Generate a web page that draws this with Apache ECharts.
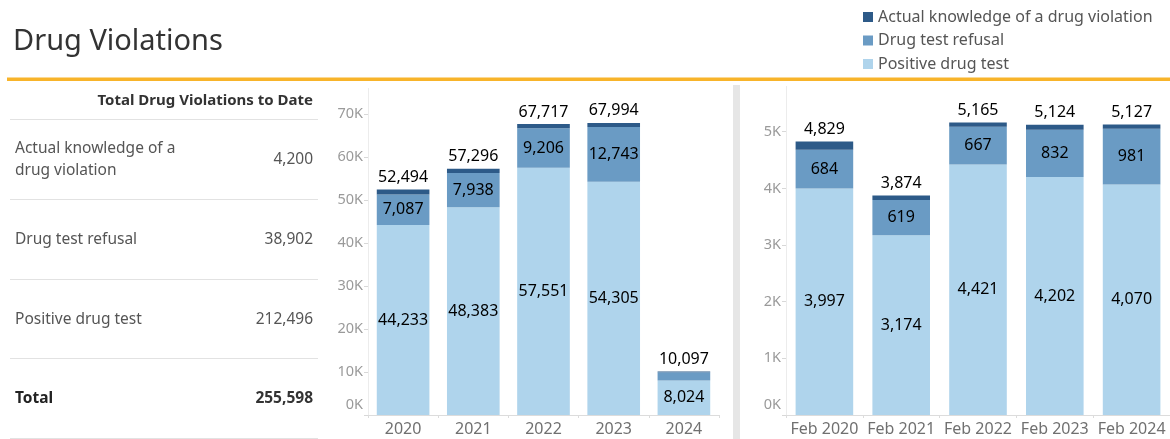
<!DOCTYPE html>
<html>
<head>
<meta charset="utf-8">
<title>Drug Violations</title>
<script src="https://cdn.jsdelivr.net/npm/echarts@6/dist/echarts.min.js"></script>
<style>
  html, body { margin: 0; padding: 0; background: #fff; }
  #chart { width: 1170px; height: 439px; }
</style>
</head>
<body>
<div id="chart"></div>
<script>
// data
var seriesNames = ['Positive drug test', 'Drug test refusal', 'Actual knowledge of a drug violation'];
var years = ['2020', '2021', '2022', '2023', '2024'];
var yearPositive = [44233, 48383, 57551, 54305, 8024];
var yearRefusal = [7087, 7938, 9206, 12743, 1928];
var yearKnowledge = [1174, 975, 960, 946, 145];
var months = ['Feb 2020', 'Feb 2021', 'Feb 2022', 'Feb 2023', 'Feb 2024'];
var febPositive = [3997, 3174, 4421, 4202, 4070];
var febRefusal = [684, 619, 667, 832, 981];
var febKnowledge = [148, 81, 77, 90, 76];
var yearMax = 76000, yearStep = 10000;
var febMax = 5800, febStep = 1000;

var colors = ['#afd4ec', '#6a9bc4', '#2d5a88'];
var FONT = '"Noto Sans", sans-serif';

function fmt(n) { return n.toLocaleString('en-US'); }
function sum(a) { return a.reduce(function (s, v) { return s + v; }, 0); }

var myChart = echarts.init(document.getElementById('chart'));

function yAxisFor(gi, max, step) {
  return {
    type: 'value', gridIndex: gi, min: 0, max: max, interval: step,
    splitLine: { show: false },
    axisLine: { show: true, lineStyle: { color: '#ececec' } },
    axisTick: { show: true, length: 4, lineStyle: { color: '#d8d8d8' } },
    axisLabel: {
      margin: 5, color: '#9a9a9a', fontSize: 14.5, fontFamily: FONT,
      showMaxLabel: false,
      formatter: function (v) {
        if (v === 0) return '{z|0K}';
        return v % step === 0 ? (v / 1000) + 'K' : '';
      },
      rich: { z: { fontSize: 14.5, color: '#9a9a9a', fontFamily: FONT, padding: [0, 0, 20, 0] } }
    }
  };
}

function xAxisFor(gi, cats) {
  return {
    type: 'category', gridIndex: gi, data: cats,
    axisLine: { lineStyle: { color: '#dcdcdc' } },
    axisTick: { show: true, length: 3, lineStyle: { color: '#dcdcdc' } },
    axisLabel: { interval: 0, margin: 6, color: '#707070', fontSize: 16, fontFamily: FONT }
  };
}

var labelStyle = { color: '#000', fontSize: 16, fontFamily: FONT };

function stackSeries(gi, pos, ref, know, minShow) {
  var stack = 's' + gi;
  return [
    {
      name: seriesNames[0], type: 'bar', stack: stack, xAxisIndex: gi, yAxisIndex: gi,
      barCategoryGap: '25%', data: pos, itemStyle: { color: colors[0] },
      label: Object.assign({ show: true, position: 'inside', formatter: function (p) { return fmt(p.value); } }, labelStyle)
    },
    {
      name: seriesNames[1], type: 'bar', stack: stack, xAxisIndex: gi, yAxisIndex: gi,
      barCategoryGap: '25%', itemStyle: { color: colors[1] },
      data: ref.map(function (v) { return { value: v, label: { show: v >= minShow } }; }),
      label: Object.assign({ show: true, position: 'inside', formatter: function (p) { return fmt(p.value); } }, labelStyle)
    },
    {
      name: seriesNames[2], type: 'bar', stack: stack, xAxisIndex: gi, yAxisIndex: gi,
      barCategoryGap: '25%', data: know, itemStyle: { color: colors[2] },
      label: Object.assign({
        show: true, position: 'top', distance: 4,
        formatter: function (p) { var i = p.dataIndex; return fmt(pos[i] + ref[i] + know[i]); }
      }, labelStyle)
    }
  ];
}

// left table, totals summed from the yearly arrays
var tableRows = [
  { label: 'Actual knowledge of a\ndrug violation', value: sum(yearKnowledge) },
  { label: 'Drug test refusal', value: sum(yearRefusal) },
  { label: 'Positive drug test', value: sum(yearPositive) }
];
var grandTotal = sum(yearKnowledge) + sum(yearRefusal) + sum(yearPositive);

var graphics = [
  { type: 'text', left: 13, top: 27, style: { text: 'Drug Violations', fontSize: 29, fontFamily: FONT, fill: '#333' } },
  { type: 'rect', shape: { x: 7, y: 77.5, width: 1163, height: 3.5 }, style: { fill: '#f8b42a' } },
  { type: 'rect', shape: { x: 733, y: 85, width: 7, height: 354 }, style: { fill: '#e6e6e6' } },
  { type: 'text', x: 313, y: 101, style: { text: 'Total Drug Violations to Date', fontSize: 15, fontWeight: 'bold', fontFamily: FONT, fill: '#333', align: 'right', verticalAlign: 'middle' } }
];
[119.5, 199.5, 279.5, 358.5, 438.5].forEach(function (y) {
  graphics.push({ type: 'line', shape: { x1: 10, y1: y, x2: 318, y2: y }, style: { stroke: '#e2e2e2', lineWidth: 1 } });
});
tableRows.forEach(function (r, i) {
  var cy = 159.5 + i * 80;
  graphics.push({ type: 'text', x: 15, y: cy, style: { text: r.label, fontSize: 15.5, lineHeight: 22, fontFamily: FONT, fill: '#555', verticalAlign: 'middle' } });
  graphics.push({ type: 'text', x: 313, y: cy, style: { text: fmt(r.value), fontSize: 15.5, fontFamily: FONT, fill: '#555', align: 'right', verticalAlign: 'middle' } });
});
graphics.push({ type: 'text', x: 15, y: 398.5, style: { text: 'Total', fontSize: 15.5, fontWeight: 'bold', fontFamily: FONT, fill: '#222', verticalAlign: 'middle' } });
graphics.push({ type: 'text', x: 313, y: 398.5, style: { text: fmt(grandTotal), fontSize: 15.5, fontWeight: 'bold', fontFamily: FONT, fill: '#333', align: 'right', verticalAlign: 'middle' } });

var option = {
  animation: false,
  color: colors,
  textStyle: { fontFamily: FONT },
  legend: {
    orient: 'vertical', left: 863, top: 9, padding: 0,
    itemWidth: 10, itemHeight: 10, itemGap: 7.5,
    icon: 'rect',
    data: [seriesNames[2], seriesNames[1], seriesNames[0]],
    textStyle: { color: '#555', fontSize: 16, lineHeight: 15.5, fontFamily: FONT }
  },
  grid: [
    { left: 368, right: 451, top: 88.5, bottom: 24 },
    { left: 786, right: -7.6, top: 86.4, bottom: 24 }
  ],
  xAxis: [xAxisFor(0, years), xAxisFor(1, months)],
  yAxis: [yAxisFor(0, yearMax, yearStep), yAxisFor(1, febMax, febStep)],
  graphic: graphics,
  series: stackSeries(0, yearPositive, yearRefusal, yearKnowledge, 5000)
    .concat(stackSeries(1, febPositive, febRefusal, febKnowledge, 0))
};
myChart.setOption(option);
</script>
</body>
</html>
